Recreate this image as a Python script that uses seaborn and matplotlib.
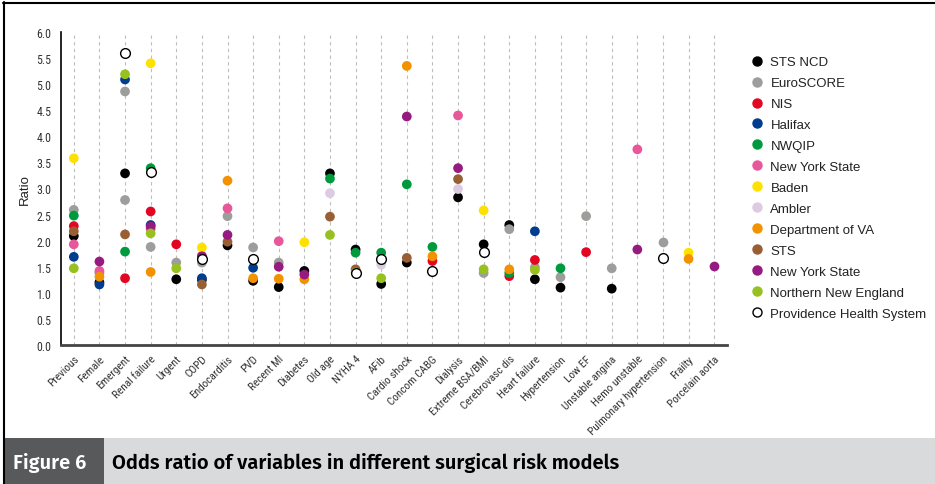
import matplotlib
matplotlib.use("Agg")
import matplotlib.pyplot as plt
from matplotlib.lines import Line2D
from matplotlib.patches import Rectangle
import seaborn as sns
import pandas as pd

# ---------------- data ----------------
variables = ["Previous", "Female", "Emergent", "Renal failure", "Urgent", "COPD",
             "Endocarditis", "PVD", "Recent MI", "Diabetes", "Old age", "NYHA 4",
             "AFib", "Cardio shock", "Concom CABG", "Dialysis", "Extreme BSA/BMI",
             "Cerebrovasc dis", "Heart failure", "Hypertension", "Low EF",
             "Unstable angina", "Hemo unstable", "Pulmonary hypertension",
             "Frailty", "Porcelain aorta"]

sts_ncd = [("Previous", 2.09), ("Female", 1.20), ("Emergent", 3.29), ("Urgent", 1.26),
           ("COPD", 1.25), ("Endocarditis", 1.91), ("PVD", 1.23), ("Recent MI", 1.11),
           ("Diabetes", 1.42), ("Old age", 3.29), ("NYHA 4", 1.83), ("AFib", 1.17),
           ("Cardio shock", 1.58), ("Dialysis", 2.83), ("Extreme BSA/BMI", 1.93),
           ("Cerebrovasc dis", 2.30), ("Heart failure", 1.26), ("Hypertension", 1.10),
           ("Unstable angina", 1.08)]
euroscore = [("Previous", 2.59), ("Female", 1.38), ("Emergent", 4.86), ("Emergent", 2.78),
             ("Renal failure", 1.88), ("Urgent", 1.58), ("COPD", 1.58), ("Endocarditis", 2.47),
             ("PVD", 1.87), ("Recent MI", 1.58), ("Extreme BSA/BMI", 1.38),
             ("Cerebrovasc dis", 2.22), ("Heart failure", 1.49), ("Hypertension", 1.30),
             ("Low EF", 2.47), ("Unstable angina", 1.47), ("Pulmonary hypertension", 1.98)]
nis = [("Previous", 2.28), ("Emergent", 1.28), ("Renal failure", 2.56), ("Urgent", 1.93),
       ("Concom CABG", 1.61), ("Cerebrovasc dis", 1.32), ("Heart failure", 1.63),
       ("Low EF", 1.78)]
halifax = [("Previous", 1.69), ("Female", 1.16), ("Emergent", 5.09), ("Renal failure", 2.30),
           ("COPD", 1.28), ("PVD", 1.48), ("Heart failure", 2.18)]
nwqip = [("Previous", 2.48), ("Emergent", 1.79), ("Renal failure", 3.39), ("Old age", 3.19),
         ("NYHA 4", 1.77), ("AFib", 1.77), ("Cardio shock", 3.08), ("Concom CABG", 1.88),
         ("Cerebrovasc dis", 1.38), ("Hypertension", 1.47)]
nys_pink = [("Previous", 1.93), ("Female", 1.42), ("Renal failure", 2.22), ("COPD", 1.71),
            ("Endocarditis", 2.62), ("Recent MI", 1.99), ("Dialysis", 4.40),
            ("Hemo unstable", 3.75)]
baden = [("Previous", 3.58), ("Renal failure", 5.40), ("COPD", 1.87), ("Diabetes", 1.97),
         ("Extreme BSA/BMI", 2.58), ("Frailty", 1.77)]
ambler = [("Old age", 2.91), ("AFib", 1.54), ("Dialysis", 2.99)]
dept_va = [("Female", 1.31), ("Renal failure", 1.40), ("Endocarditis", 3.15), ("PVD", 1.28),
           ("Recent MI", 1.27), ("Diabetes", 1.26), ("Cardio shock", 5.35),
           ("Concom CABG", 1.70), ("Cerebrovasc dis", 1.45), ("Frailty", 1.65)]
sts = [("Previous", 2.18), ("Emergent", 2.12), ("COPD", 1.16), ("Endocarditis", 1.98),
       ("Old age", 2.46), ("NYHA 4", 1.45), ("Cardio shock", 1.67), ("Dialysis", 3.18)]
nys_purple = [("Female", 1.60), ("Renal failure", 2.27), ("COPD", 1.70), ("Endocarditis", 2.11),
              ("Recent MI", 1.50), ("Diabetes", 1.35), ("Cardio shock", 4.38),
              ("Dialysis", 3.39), ("Hemo unstable", 1.83), ("Porcelain aorta", 1.52)]
nne = [("Previous", 1.47), ("Emergent", 5.19), ("Renal failure", 2.14), ("Urgent", 1.47),
       ("Old age", 2.11), ("NYHA 4", 1.39), ("AFib", 1.28), ("Extreme BSA/BMI", 1.45),
       ("Heart failure", 1.44)]
providence = [("Emergent", 5.60), ("Renal failure", 3.32), ("COPD", 1.65), ("PVD", 1.65),
              ("NYHA 4", 1.38), ("AFib", 1.65), ("Concom CABG", 1.41),
              ("Extreme BSA/BMI", 1.79), ("Pulmonary hypertension", 1.67)]

model_keys = ["STS NCD", "EuroSCORE", "NIS", "Halifax", "NWQIP", "New York State (1)",
              "Baden", "Ambler", "Department of VA", "STS", "New York State (2)",
              "Northern New England", "Providence Health System"]
legend_labels = ["STS NCD", "EuroSCORE", "NIS", "Halifax", "NWQIP", "New York State",
                 "Baden", "Ambler", "Department of VA", "STS", "New York State",
                 "Northern New England", "Providence Health System"]
model_colors = ["#000000", "#9d9d9c", "#e30521", "#003d8f", "#009a3e", "#e8579a",
                "#ffe100", "#dccbe3", "#f39200", "#985f34", "#951b81", "#97c11f", "#ffffff"]
series = [sts_ncd, euroscore, nis, halifax, nwqip, nys_pink, baden, ambler, dept_va,
          sts, nys_purple, nne, providence]

rows = []
for key, s in zip(model_keys, series):
    for var, val in s:
        rows.append({"variable": var, "ratio": val, "model": key})
df = pd.DataFrame(rows)
palette = dict(zip(model_keys, model_colors))

# ---------------- figure ----------------
sns.set_style("white")
W, H = 935, 485
fig = plt.figure(figsize=(W / 100, H / 100), dpi=100)
ax = fig.add_axes([61 / W, 1 - 346 / H, (727 - 61) / W, (346 - 33) / H])

tick_font = "Roboto Condensed"

filled = df[df["model"] != "Providence Health System"]
sns.stripplot(data=filled, x="variable", y="ratio", hue="model", order=variables,
              hue_order=model_keys[:-1], palette=palette, jitter=False, dodge=False,
              size=7.0, linewidth=0, legend=False, ax=ax, zorder=3)
sns.stripplot(data=df[df["model"] == "Providence Health System"], x="variable", y="ratio",
              order=variables, color="white", edgecolor="black", linewidth=1.0,
              jitter=False, size=7.0, legend=False, ax=ax, zorder=4)

ax.set_xlim(-0.5, len(variables) - 0.5)
ax.set_ylim(0, 6)
ax.set_yticks([i * 0.5 for i in range(13)])
ax.set_yticklabels([f"{i * 0.5:.1f}" for i in range(13)], fontfamily=tick_font,
                   fontsize=8.6, color="#333333")
ax.set_xticks(range(len(variables)))
ax.set_xticklabels(variables, rotation=45, ha="right", rotation_mode="anchor",
                   fontfamily=tick_font, fontsize=8.1, color="#333333")
ax.set_xlabel("")
ax.set_ylabel("")
for i in range(len(variables)):
    ax.axvline(i, color="#bdbdbd", lw=0.8, ls=(0, (3, 3)), zorder=1)

for sp in ["top", "right"]:
    ax.spines[sp].set_visible(False)
ax.spines["left"].set_color("black")
ax.spines["left"].set_linewidth(1.2)
ax.spines["bottom"].set_color("#444444")
ax.spines["bottom"].set_linewidth(2.0)
ax.tick_params(axis="y", direction="out", length=4, width=1, color="black", pad=3)
ax.tick_params(axis="x", direction="out", length=4, width=1, color="black", pad=2)

fig.text(25 / W, 1 - 190 / H, "Ratio", rotation=90, ha="center", va="center",
         fontsize=9.5, fontfamily="Liberation Sans", color="#222222")

handles = []
for key, col in zip(model_keys, model_colors):
    if key == "Providence Health System":
        h = Line2D([], [], marker="o", ls="", markerfacecolor="white",
                   markeredgecolor="black", markeredgewidth=1.0, markersize=6.5)
    else:
        h = Line2D([], [], marker="o", ls="", markerfacecolor=col,
                   markeredgecolor=col, markersize=6.5)
    handles.append(h)
leg = fig.legend(handles, legend_labels, loc="upper left",
                 bbox_to_anchor=(750 / W, 1 - 57 / H), frameon=False,
                 prop={"family": "Liberation Sans", "size": 9.5},
                 handletextpad=0.55, labelspacing=0.66, handlelength=1.0,
                 borderaxespad=0, borderpad=0)
for t in leg.get_texts():
    t.set_color("#222222")

# frame and caption
fig.add_artist(Line2D([3.5 / W, 3.5 / W], [0, 1 - 3 / H], color="black", lw=1.5,
                      transform=fig.transFigure))
fig.add_artist(Line2D([3 / W, 1], [1 - 3.5 / H, 1 - 3.5 / H], color="black", lw=1.5,
                      transform=fig.transFigure))
fig.add_artist(Rectangle((4 / W, 0), 1, (485 - 439) / H, transform=fig.transFigure,
                         facecolor="#d9dadb", edgecolor="none"))
fig.add_artist(Rectangle((4 / W, 0), (104 - 4) / W, (485 - 439) / H,
                         transform=fig.transFigure, facecolor="#58595b", edgecolor="none"))
cap_font = "Fira Sans"
fig.text(50 / W, 1 - 463 / H, "Figure 6", color="white", fontsize=14.5, fontweight="semibold",
         ha="center", va="center", fontfamily=cap_font)
fig.text(112 / W, 1 - 463 / H, "Odds ratio of variables in different surgical risk models",
         color="black", fontsize=14.5, fontweight="semibold", ha="left", va="center",
         fontfamily=cap_font)

fig.savefig("out.png", dpi=100)
